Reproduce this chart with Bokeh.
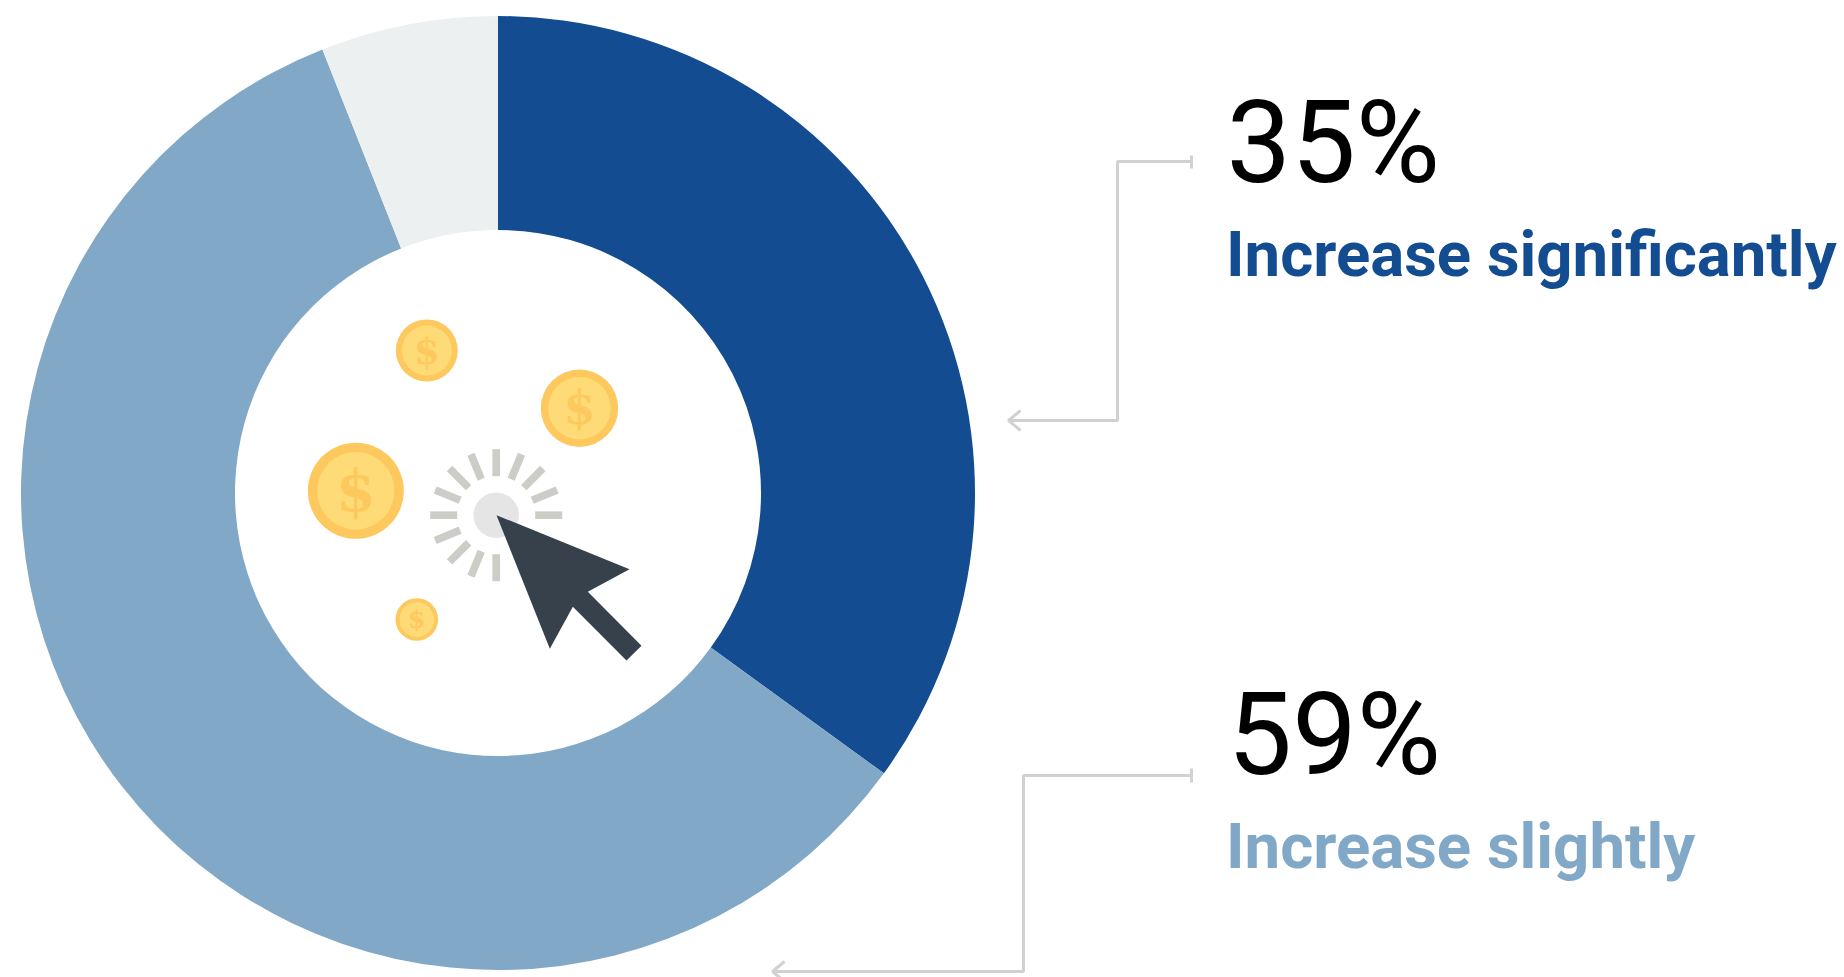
from math import pi, cos, sin, radians
from bokeh.plotting import figure
from bokeh.models import Range1d
from bokeh.core.properties import value
from bokeh.embed import file_html
from bokeh.resources import INLINE

# ---- data ----
categories = ["Increase significantly", "Increase slightly", "Other"]
shares = [35, 59, 6]
colors = ["#134c90", "#81a8c6", "#edf0f1"]
pct_labels = ["35%", "59%"]
name_labels = ["Increase significantly", "Increase slightly"]

W, H = 1844, 977


def X(x):
    return x


def Y(y):
    return H - y


p = figure(width=W, height=H, output_backend="svg", toolbar_location=None,
           x_range=Range1d(0, W), y_range=Range1d(0, H), min_border=0,
           outline_line_color=None, background_fill_color="white")
p.axis.visible = False
p.grid.visible = False

# donut, built from the shares
CX, CY, R_OUT, R_IN = 497.5, 492.5, 477, 263
total = sum(shares)
cum = 0
starts, ends = [], []
for s in shares:
    starts.append(pi / 2 - 2 * pi * cum / total)
    cum += s
    ends.append(pi / 2 - 2 * pi * cum / total)
p.annular_wedge(x=[X(CX)] * 3, y=[Y(CY)] * 3, inner_radius=R_IN, outer_radius=R_OUT,
                start_angle=starts, end_angle=ends, direction="clock",
                fill_color=colors, line_color=None)

# coins
coins = [(426.3, 350, 31, 25, 37), (579, 407.7, 38.7, 31.3, 46),
         (355.3, 490.3, 48, 38.7, 57), (416.3, 619, 21.3, 17.3, 25)]
for cx, cy, r1, r2, fs in coins:
    p.circle(x=[X(cx)], y=[Y(cy)], radius=r1, fill_color="#fdc95f", line_color=None)
    p.circle(x=[X(cx)], y=[Y(cy)], radius=r2, fill_color="#fedb76", line_color=None)
    p.text(x=[X(cx)], y=[Y(cy)], text=["$"], text_color="#fdc95f",
           text_font=value("DejaVu Serif"), text_font_style="bold",
           text_font_size=f"{fs}px", text_align="center", text_baseline="middle")

# click burst and cursor
BX, BY = 495.7, 514.7
angles = [i * 22.5 for i in range(16) if i not in (13, 14, 15)]
xs0 = [X(BX + 39 * cos(radians(a))) for a in angles]
ys0 = [Y(BY - 39 * sin(radians(a))) for a in angles]
xs1 = [X(BX + 66 * cos(radians(a))) for a in angles]
ys1 = [Y(BY - 66 * sin(radians(a))) for a in angles]
p.segment(x0=xs0, y0=ys0, x1=xs1, y1=ys1, line_color="#cccdc7", line_width=7.7, line_cap="butt")
p.circle(x=[X(BX)], y=[Y(BY)], radius=22.7, fill_color="#e5e5e5", line_color=None)
cur = [(648, 674), (1047, 836), (922, 904), (1083, 1066), (1038, 1110), (877, 949), (808, 1075)]
p.patch(x=[X(280 + a / 3) for a, _ in cur], y=[Y(290 + b / 3) for _, b in cur],
        fill_color="#36414c", line_color=None)

# connectors
LC = "#d1d1d1"
paths = [
    ([1191, 1117, 1117, 1008], [161, 161, 420, 420]),
    ([1191, 1191], [155, 168]),
    ([1020, 1008, 1020], [410, 420, 430]),
    ([1191, 1023, 1023, 772], [775, 775, 971, 971]),
    ([1191, 1191], [768, 782]),
    ([784, 772, 784], [961, 971, 981]),
]
for xs, ys in paths:
    p.line(x=[X(a) for a in xs], y=[Y(b) for b in ys], line_color=LC, line_width=3)

# labels
PCT_FS, NAME_FS = 115, 63.5
pct_pos = [(1226, 185), (1227, 777)]
name_pos = [(1225.5, 276), (1225.5, 868)]
for lab, (x, y) in zip(pct_labels, pct_pos):
    p.text(x=[X(x)], y=[Y(y - 0.375 * PCT_FS)], text=[lab], text_color="#000000", text_font=value("Roboto"),
           text_font_size=f"{PCT_FS}px", text_align="left", text_baseline="alphabetic")
for lab, c, (x, y) in zip(name_labels, colors, name_pos):
    p.text(x=[X(x)], y=[Y(y - 0.35 * NAME_FS)], text=[lab], text_color=c, text_font=value("Roboto"),
           text_font_style="bold", text_font_size=f"{NAME_FS}px", text_align="left", text_baseline="alphabetic")

open("out.html", "w").write(file_html(p, INLINE))
